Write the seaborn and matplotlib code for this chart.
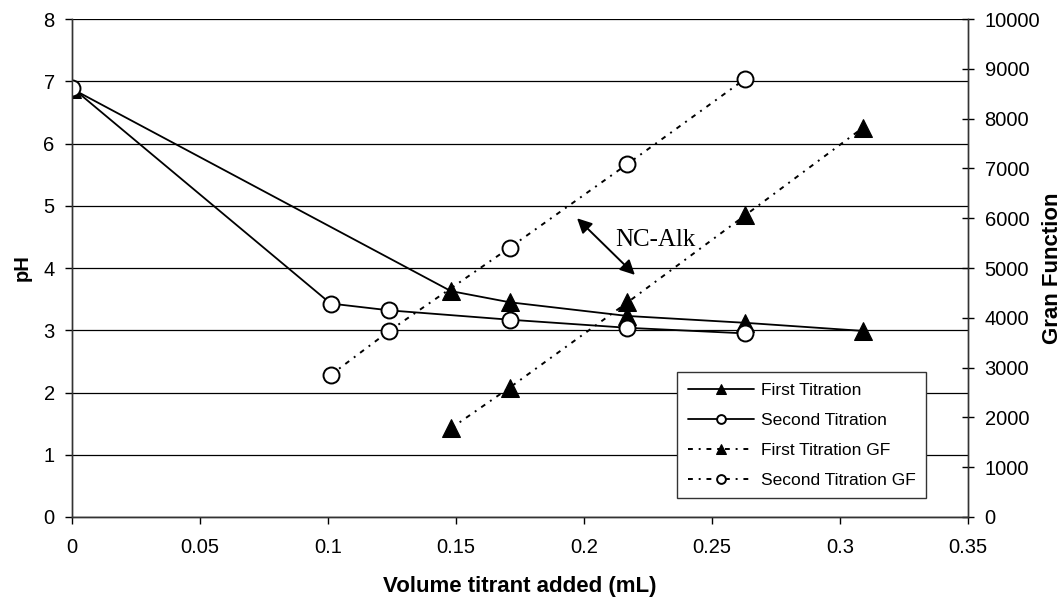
import matplotlib
matplotlib.use("Agg")
import matplotlib.pyplot as plt
import seaborn as sns

# Volume titrant added (mL) and measured pH / Gran function values
first_x = [0.0, 0.148, 0.171, 0.217, 0.263, 0.309]
first_ph = [6.88, 3.63, 3.45, 3.23, 3.12, 2.99]

second_x = [0.0, 0.101, 0.124, 0.171, 0.217, 0.263]
second_ph = [6.90, 3.43, 3.32, 3.17, 3.04, 2.95]

first_gf_x = [0.148, 0.171, 0.217, 0.263, 0.309]
first_gf = [1780, 2600, 4310, 6060, 7820]

second_gf_x = [0.101, 0.124, 0.171, 0.217, 0.263]
second_gf = [2850, 3740, 5410, 7090, 8800]

x_ticks = [0, 0.05, 0.1, 0.15, 0.2, 0.25, 0.3, 0.35]
x_tick_labels = ["0", "0.05", "0.1", "0.15", "0.2", "0.25", "0.3", "0.35"]

sns.set_theme(style="white")
plt.rcParams["font.family"] = ["Liberation Sans", "DejaVu Sans"]
plt.rcParams["axes.labelcolor"] = "black"
plt.rcParams["text.color"] = "black"

fig = plt.figure(figsize=(10.64, 5.98), dpi=100)
ax = fig.add_axes([0.0677, 0.1355, 0.842, 0.8325])
ax2 = ax.twinx()

dots = (0, (2.5, 3.0, 1.0, 3.0))

# pH curves (left axis)
sns.lineplot(x=first_x, y=first_ph, ax=ax, sort=False, color="black", lw=1.3,
             marker="^", ms=12.5, mfc="black", mec="black", label="First Titration", zorder=3)
sns.lineplot(x=second_x, y=second_ph, ax=ax, sort=False, color="black", lw=1.3,
             marker="o", ms=11.5, mfc="white", mec="black", mew=1.4, label="Second Titration", zorder=4)

# Gran function (right axis)
sns.lineplot(x=first_gf_x, y=first_gf, ax=ax2, sort=False, color="black", lw=1.4,
             linestyle=dots, marker="^", ms=12.5, mfc="black", mec="black", label="First Titration GF")
sns.lineplot(x=second_gf_x, y=second_gf, ax=ax2, sort=False, color="black", lw=1.4,
             linestyle=dots, marker="o", ms=11.5, mfc="white", mec="black", mew=1.4,
             label="Second Titration GF")

ax.set_xlim(0, 0.35)
ax.set_ylim(0, 8)
ax2.set_ylim(0, 10000)
ax.set_xticks(x_ticks)
ax.set_xticklabels(x_tick_labels)
ax.set_yticks(range(0, 9))
ax2.set_yticks(range(0, 10001, 1000))

ax.yaxis.grid(True, color="black", lw=0.9)
ax.xaxis.grid(False)
ax2.grid(False)
ax.set_axisbelow(True)

for a in (ax, ax2):
    a.spines["top"].set_visible(False)
    for s in ("left", "right", "bottom"):
        a.spines[s].set_color("#333333")
        a.spines[s].set_linewidth(1.0)

ax.tick_params(axis="x", labelsize=14.5, colors="black", direction="out",
               length=5, width=1.0, pad=10, bottom=True)
ax.tick_params(axis="y", labelsize=14.5, colors="black", direction="out",
               length=5, width=1.0, pad=7.5, left=True)
ax2.tick_params(axis="y", labelsize=14.5, colors="black", direction="inout",
                length=9, width=1.0, pad=7.5, right=True)

ax.set_xlabel("Volume titrant added (mL)", fontsize=16, fontweight="bold", color="black")
ax.set_ylabel("pH", fontsize=14.5, fontweight="bold", color="black")
ax2.set_ylabel("Gran Function", fontsize=16, fontweight="bold", color="black")
ax.xaxis.set_label_coords(0.5, -0.118)
ax.yaxis.set_label_coords(-0.045, 0.5)
ax2.yaxis.set_label_coords(1.083, 0.5)

# NC-Alk annotation
ax.annotate("", xy=(0.2199, 3.89), xytext=(0.1973, 4.80),
            arrowprops=dict(arrowstyle="<|-|>", color="black", lw=1.4,
                            mutation_scale=22, shrinkA=0, shrinkB=0))
ax.text(0.2277, 4.45, "NC-Alk", fontsize=18, family=["Liberation Serif", "DejaVu Serif"],
        ha="center", va="center", color="black")

h1, l1 = ax.get_legend_handles_labels()
h2, l2 = ax2.get_legend_handles_labels()
if ax.get_legend() is not None:
    ax.get_legend().remove()
if ax2.get_legend() is not None:
    ax2.get_legend().remove()
leg = ax2.legend(h1 + h2, l1 + l2, loc="lower right", bbox_to_anchor=(0.953, 0.038),
                 fontsize=12.5, frameon=True, fancybox=False, framealpha=1,
                 edgecolor="#333333", markerscale=0.55, handlelength=3.8,
                 handletextpad=0.4, labelspacing=0.85, borderpad=0.6, borderaxespad=0)
leg.get_frame().set_linewidth(1.0)
for t in leg.get_texts():
    t.set_color("black")

fig.savefig("out.png", dpi=100)
